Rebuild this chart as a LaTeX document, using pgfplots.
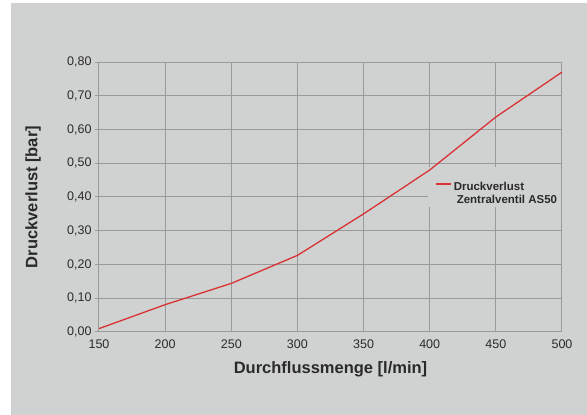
\documentclass[border=0pt]{standalone}
\usepackage{pgfplots}
\pgfplotsset{compat=1.18}
\usepackage{fontspec}
\setmainfont{Liberation Sans}
\definecolor{bg}{HTML}{D0D2D1}
\definecolor{gridc}{HTML}{9A9A9A}
\definecolor{redl}{HTML}{D93234}
\definecolor{txt}{HTML}{2A2A2A}
\begin{document}
\begin{tikzpicture}[x=1pt,y=1pt]
\fill[white] (0,0) rectangle (587,415);
\fill[bg] (11,0) rectangle (587,412);
\begin{axis}[
  at={(99pt,83pt)}, anchor=south west,
  scale only axis, width=463pt, height=270pt,
  xmin=150, xmax=500, ymin=0, ymax=0.8,
  xtick={150,200,...,500},
  ytick={0,0.1,...,0.8},
  grid=major,
  major grid style={gridc, line width=1pt},
  axis line style={gridc, line width=1pt},
  axis lines*=left,
  x tick style={draw=none},
  y tick style={gridc, line width=1pt},
  ytick pos=left,
  tick align=outside,
  major tick length=4pt,
  /pgf/number format/assume math mode=true,
  tick label style={font=\fontsize{12.5}{14}\selectfont, text=txt},
  yticklabel style={/pgf/number format/.cd, fixed, fixed zerofill, precision=2, use comma},
  xticklabel style={/pgf/number format/.cd, fixed, precision=0, 1000 sep={}},
  xlabel={\textbf{Durchflussmenge [l/min]}},
  ylabel={\textbf{Druckverlust [bar]}},
  label style={font=\fontsize{16.5}{18}\selectfont, text=txt},
  xlabel style={at={(axis description cs:0.5,0)}, anchor=center, yshift=-37pt},
  ylabel style={at={(axis description cs:0,0.5)}, anchor=center, yshift=66pt},
  legend style={at={(axis description cs:0.711,0.576)}, anchor=north west,
    fill=none, draw=none, font=\fontsize{11.5}{13}\selectfont\bfseries, text=txt,
    inner xsep=7pt, inner ysep=3pt},
  legend cell align=left,
  legend image code/.code={\draw[draw=redl, line width=1.4pt] (0pt,0.3em) -- (15pt,0.3em);},
  clip=false,
]
\fill[bg] (axis description cs:0.7106,0.611) rectangle (axis description cs:0.9978,0.463);
\addplot[redl, line width=1.3pt, forget plot] coordinates {
  (150,0.010) (200,0.081) (250,0.144) (300,0.227) (350,0.350) (400,0.480) (450,0.637) (500,0.770)
};
\addlegendimage{redl}
\addlegendentry{\begin{tabular}[t]{@{}l@{}}Druckverlust\\\hspace{3pt}Zentralventil AS50\end{tabular}}
\end{axis}
\end{tikzpicture}
\end{document}
